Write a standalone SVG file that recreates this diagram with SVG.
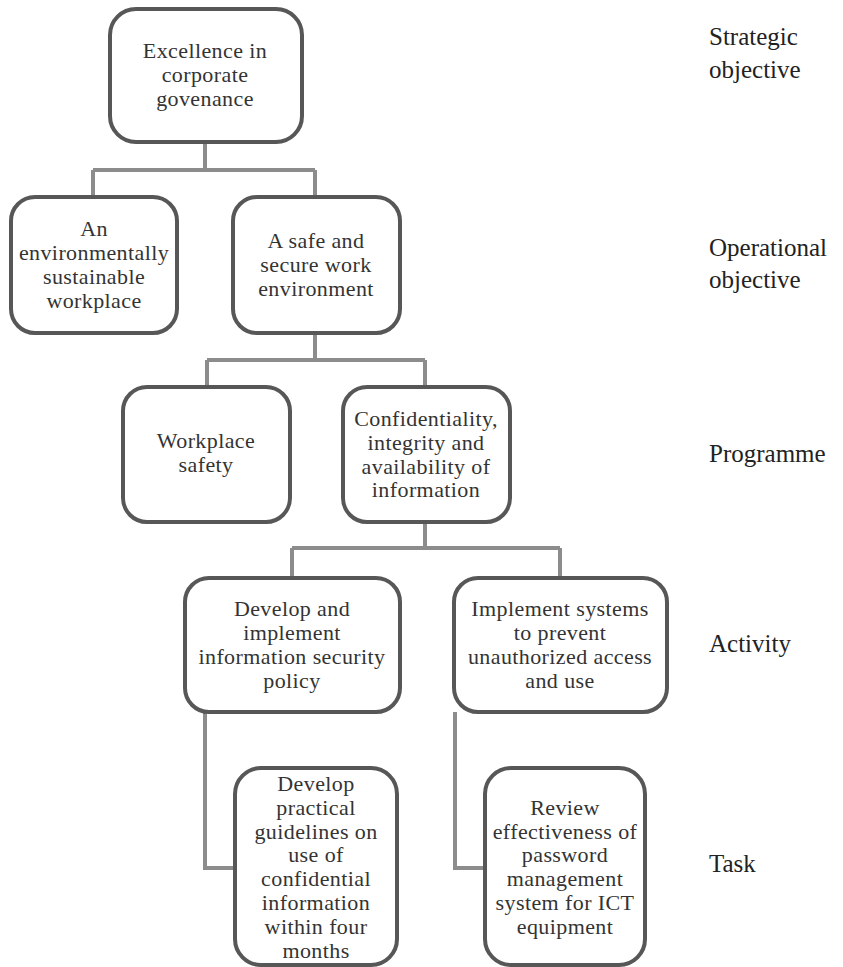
<svg xmlns="http://www.w3.org/2000/svg" width="843" height="967" viewBox="0 0 843 967">
  <style>
    .box { fill: #ffffff; stroke: #575757; stroke-width: 4; }
    .link { fill: none; stroke: #8c8c8c; stroke-width: 4; }
    .t { font-family: "Liberation Serif", "DejaVu Serif", serif; font-size: 22px; letter-spacing: 0.4px; fill: #333333; text-anchor: middle; }
    .lvl { font-family: "Liberation Serif", "DejaVu Serif", serif; font-size: 25px; fill: #222222; }
  </style>
  <rect width="843" height="967" fill="#ffffff"/>

  <!-- tree connectors -->
  <g id="connectors">
    <path class="link" d="M205,143 V170 M93,170 H315 M93,170 V197 M315,170 V197"/>
    <path class="link" d="M315,333 V360 M207,360 H425 M207,360 V387 M425,360 V387"/>
    <path class="link" d="M425,522 V548 M292,548 H560 M292,548 V578 M560,548 V578"/>
    <path class="link" d="M205,712 V868 H235"/>
    <path class="link" d="M455,712 V868 H485"/>
  </g>

  <!-- strategic objective -->
  <g id="excellence">
    <rect class="box" x="110" y="9" width="192" height="133" rx="26"/>
    <text class="t" x="205" y="58">Excellence in</text>
    <text class="t" x="205" y="82">corporate</text>
    <text class="t" x="205" y="106">govenance</text>
  </g>

  <!-- operational objectives -->
  <g id="sustainable">
    <rect class="box" x="11" y="197" width="166" height="136" rx="24"/>
    <text class="t" x="94" y="236">An</text>
    <text class="t" x="94" y="260">environmentally</text>
    <text class="t" x="94" y="284">sustainable</text>
    <text class="t" x="94" y="308">workplace</text>
  </g>
  <g id="safe-secure">
    <rect class="box" x="233" y="197" width="167" height="136" rx="24"/>
    <text class="t" x="316" y="248">A safe and</text>
    <text class="t" x="316" y="272">secure work</text>
    <text class="t" x="316" y="296">environment</text>
  </g>

  <!-- programmes -->
  <g id="workplace-safety">
    <rect class="box" x="123" y="387" width="167" height="135" rx="24"/>
    <text class="t" x="206" y="448">Workplace</text>
    <text class="t" x="206" y="472">safety</text>
  </g>
  <g id="confidentiality">
    <rect class="box" x="343" y="387" width="167" height="135" rx="24"/>
    <text class="t" x="426" y="426">Confidentiality,</text>
    <text class="t" x="426" y="450">integrity and</text>
    <text class="t" x="426" y="474">availability of</text>
    <text class="t" x="426" y="497">information</text>
  </g>

  <!-- activities -->
  <g id="security-policy">
    <rect class="box" x="185" y="578" width="215" height="134" rx="24"/>
    <text class="t" x="292" y="616">Develop and</text>
    <text class="t" x="292" y="640">implement</text>
    <text class="t" x="292" y="664">information security</text>
    <text class="t" x="292" y="688">policy</text>
  </g>
  <g id="access-control">
    <rect class="box" x="454" y="578" width="213" height="134" rx="24"/>
    <text class="t" x="560" y="616">Implement systems</text>
    <text class="t" x="560" y="640">to prevent</text>
    <text class="t" x="560" y="664">unauthorized access</text>
    <text class="t" x="560" y="688">and use</text>
  </g>

  <!-- tasks -->
  <g id="guidelines">
    <rect class="box" x="235" y="768" width="162" height="197" rx="26"/>
    <text class="t" x="316" y="791">Develop</text>
    <text class="t" x="316" y="815">practical</text>
    <text class="t" x="316" y="839">guidelines on</text>
    <text class="t" x="316" y="862">use of</text>
    <text class="t" x="316" y="886">confidential</text>
    <text class="t" x="316" y="910">information</text>
    <text class="t" x="316" y="934">within four</text>
    <text class="t" x="316" y="958">months</text>
  </g>
  <g id="password-review">
    <rect class="box" x="485" y="768" width="160" height="197" rx="26"/>
    <text class="t" x="565" y="815">Review</text>
    <text class="t" x="565" y="839">effectiveness of</text>
    <text class="t" x="565" y="862">password</text>
    <text class="t" x="565" y="886">management</text>
    <text class="t" x="565" y="910">system for ICT</text>
    <text class="t" x="565" y="934">equipment</text>
  </g>

  <!-- level labels -->
  <g id="levels">
    <text class="lvl" x="709" y="45">Strategic</text>
    <text class="lvl" x="709" y="78">objective</text>
    <text class="lvl" x="709" y="256">Operational</text>
    <text class="lvl" x="709" y="288">objective</text>
    <text class="lvl" x="709" y="462">Programme</text>
    <text class="lvl" x="709" y="652">Activity</text>
    <text class="lvl" x="709" y="872">Task</text>
  </g>
</svg>
